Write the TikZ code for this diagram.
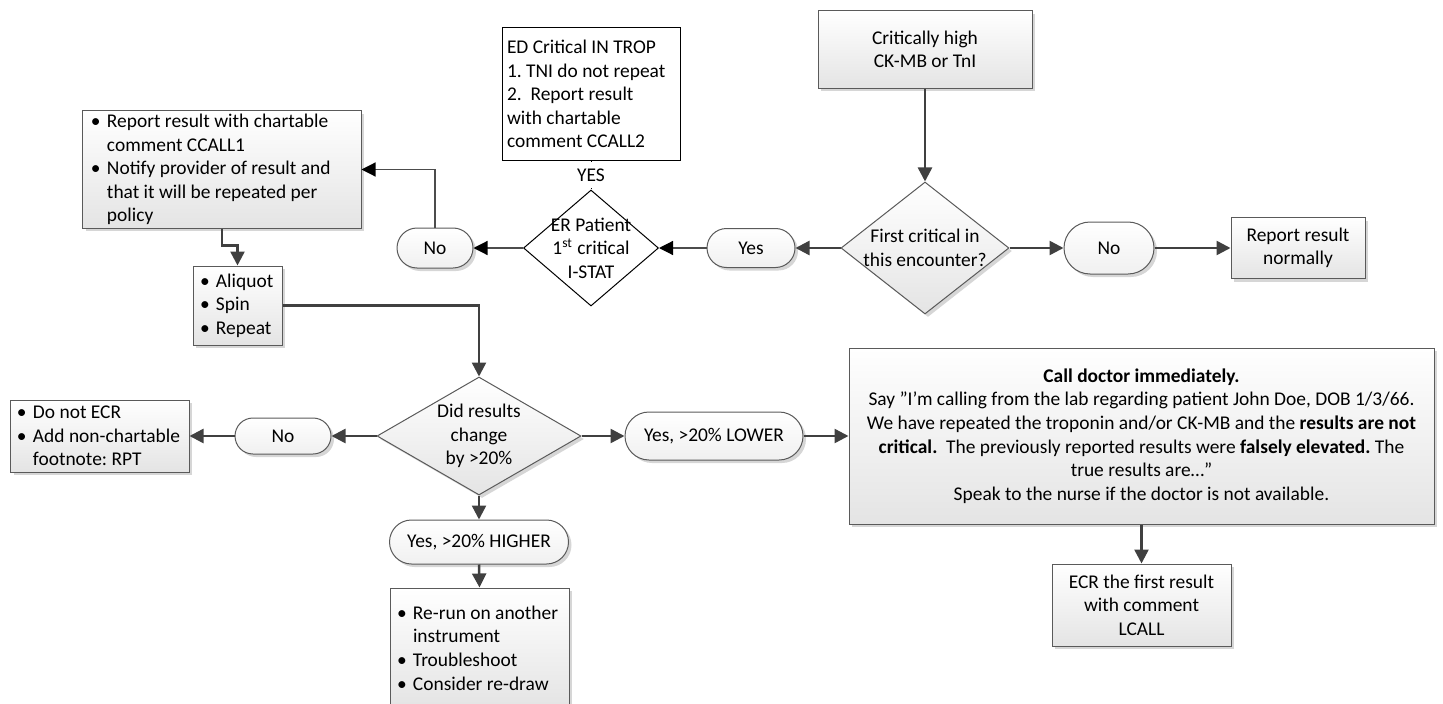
\documentclass[tikz,border=0pt]{standalone}
\usepackage{fontspec}
\setmainfont{Carlito}
\usetikzlibrary{arrows.meta,shapes.geometric,shapes.misc,shadows}
\frenchspacing
\definecolor{Ink}{HTML}{000000}
\definecolor{Edge}{HTML}{5A5A5A}
\definecolor{Wire}{HTML}{404040}
\definecolor{Shade}{HTML}{E4E4E4}
\definecolor{Shadow}{HTML}{D6D6D6}
\newcommand\dotitem[1]{\mbox{\makebox[8bp][l]{\textbullet}#1}}
\newcommand\dotcont[1]{\mbox{\hspace*{8bp}#1}}
\tikzset{
  lift/.style={drop shadow={shadow xshift=1.5bp, shadow yshift=-1.5bp, fill=Shadow, opacity=1}},
  box/.style={rectangle, draw=Edge, top color=white, bottom color=Shade, line width=0.5bp, text=Ink, align=center, inner sep=0pt, lift},
  listbox/.style={box, align=flush left, inner xsep=#1},
  listbox/.default=3.5bp,
  term/.style={rounded rectangle, draw=Edge, top color=white, bottom color=Shade!55, line width=0.5bp, text=Ink, inner sep=0pt, lift},
  decide/.style={diamond, draw=Edge, top color=white, bottom color=Shade, line width=0.5bp, inner sep=0pt, lift},
  pick/.style={diamond, draw=black, fill=white, line width=0.5bp, inner sep=0pt},
  plainbox/.style={rectangle, draw=black, fill=white, line width=0.5bp, text=Ink, align=flush left, inner sep=0pt, inner xsep=2.5bp},
  arrow/.style={-{Triangle[length=7bp, width=7bp]}, line width=1.25bp, draw=Wire},
  thinarrow/.style={-{Triangle[length=7bp, width=7bp, color=black]}, line width=0.6bp, draw=black!70}
}
\begin{document}
\begin{tikzpicture}[x=0.5bp, y=-0.5bp, font=\fontsize{9.75}{11.85}\selectfont]
  \useasboundingbox (0,0) rectangle (1443,704);
  % top row
  \node[box, minimum width=107bp, minimum height=38.5bp] (crit) at (925,49.5) {Critically high\\CK-MB or TnI};
  \node[decide, minimum width=84bp, minimum height=66bp, label={[align=center]center:First critical in\\this encounter?}] (first) at (925,248) {};
  \node[term, minimum width=45bp, minimum height=26bp] (noR) at (1109,248) {No};
  \node[box, minimum width=67bp, minimum height=30.5bp] (rpt) at (1298,248) {Report result\\normally};
  \node[term, minimum width=44bp, minimum height=19.5bp] (yes) at (751,248) {Yes};
  \node[pick, minimum width=67.5bp, minimum height=58bp, label={[align=center]center:ER Patient\\1\textsuperscript{st} critical\\I-STAT}] (er) at (591,248) {};
  \node[plainbox, text width=84bp, minimum height=66bp] (ed) at (591,94) {ED Critical IN TROP\\\mbox{1. TNI do not repeat}\\2.\ \ Report result\\with chartable\\comment CCALL2};
  \node[term, minimum width=38bp, minimum height=20bp] (noL) at (435,248) {No};
  \node[listbox=4bp, text width=131bp, minimum height=58.5bp] (tl) at (222,169.5) {\dotitem{Report result with chartable}\\\dotcont{comment CCALL1}\\\dotitem{Notify provider of result and}\\\dotcont{that it will be repeated per}\\\dotcont{policy}};
  \node[listbox, text width=37.5bp, minimum height=39.5bp] (aliq) at (237.5,305.5) {\dotitem{Aliquot}\\\dotitem{Spin}\\\dotitem{Repeat}};
  % middle row
  \node[decide, minimum width=102bp, minimum height=59bp, label={[align=center]center:Did results\\change\\by >20\%}] (did) at (479,436) {};
  \node[term, minimum width=48bp, minimum height=18bp] (noB) at (283,436) {No};
  \node[listbox=3bp, text width=83bp, minimum height=36bp] (dne) at (100,436) {\dotitem{Do not ECR}\\\dotitem{Add non-chartable}\\\dotcont{footnote: RPT}};
  \node[term, minimum width=89.5bp, minimum height=22bp] (high) at (479,542) {Yes, >20\% HIGHER};
  \node[listbox, text width=82.5bp, minimum height=60bp] (rerun) at (479.5,648) {\dotitem{Re-run on another}\\\dotcont{instrument}\\\dotitem{Troubleshoot}\\\dotitem{Consider re-draw}};
  \node[term, minimum width=89bp, minimum height=24bp] (low) at (714,436) {Yes, >20\% LOWER};
  \node[box, minimum width=292.5bp, minimum height=88bp] (big) at (1141.5,436) {\textbf{Call doctor immediately.}\\Say ”I’m calling from the lab regarding patient John Doe, DOB 1/3/66.\\We have repeated the troponin and/or CK-MB and the \textbf{results are not}\\\textbf{critical.}\ \ The previously reported results were \textbf{falsely elevated.} The\\true results are…”\\Speak to the nurse if the doctor is not available.};
  \node[box, minimum width=89.5bp, minimum height=41bp] (ecr) at (1141.5,605) {ECR the first result\\with comment\\LCALL};
  % connectors
  \draw[arrow] (crit.south) -- (first.north);
  \draw[arrow] (first.east) -- (noR.west);
  \draw[arrow] (noR.east) -- (rpt.west);
  \draw[arrow] (first.west) -- (yes.east);
  \draw[thinarrow] (yes.west) -- (er.east);
  \draw[thinarrow] (er.west) -- (noL.east);
  \draw[black, line width=0.5bp] (ed.south) -- node[fill=white, inner sep=0pt, minimum height=13bp] (yeslbl) {YES} (er.north);
  \draw[thinarrow] (noL.north) |- (tl.east);
  \draw[arrow] (tl.south) -- ++(0,17) -| (aliq.north);
  \draw[arrow] (aliq.east) -| (did.north);
  \draw[arrow] (did.west) -- (noB.east);
  \draw[arrow] (noB.west) -- (dne.east);
  \draw[arrow] (did.south) -- (high.north);
  \draw[arrow] (high.south) -- (rerun.north);
  \draw[arrow] (did.east) -- (low.west);
  \draw[arrow] (low.east) -- (big.west);
  \draw[arrow] (big.south) -- (ecr.north);
\end{tikzpicture}
\end{document}
